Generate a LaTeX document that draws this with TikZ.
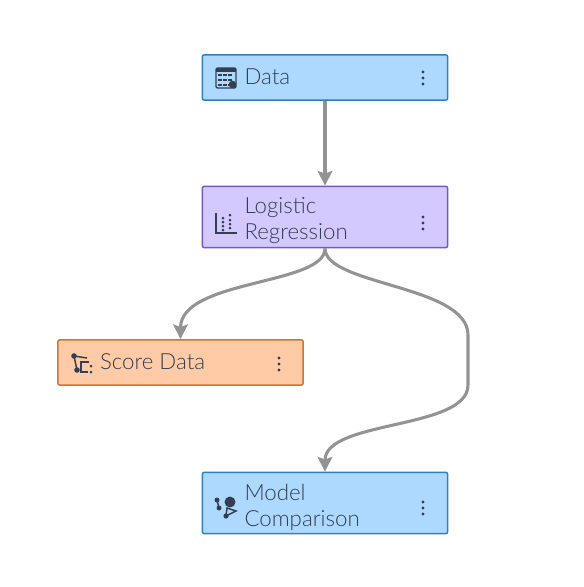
\documentclass[tikz,border=0pt]{standalone}
\usepackage{fontspec}
\setmainfont{Lato Light}
\usetikzlibrary{positioning, arrows.meta}
\definecolor{inkc}{HTML}{333F4F}
\definecolor{linkc}{HTML}{939393}
\definecolor{bluef}{HTML}{ADD9FF}
\definecolor{blued}{HTML}{2F7FC4}
\definecolor{purplef}{HTML}{D4C9FF}
\definecolor{purpled}{HTML}{7459C2}
\definecolor{orangef}{HTML}{FFCBA6}
\definecolor{oranged}{HTML}{D2752E}

\begin{document}
\begin{tikzpicture}[
    x=0.75pt, y=-0.75pt,
    task/.style = {rectangle, rounded corners=1.5pt, line width=1.1pt,
      minimum width=184pt, inner sep=0pt},
    taskone/.style = {task, minimum height=34pt},
    tasktwo/.style = {task, minimum height=46pt},
    bluetask/.style = {draw=blued, fill=bluef},
    purpletask/.style = {draw=purpled, fill=purplef},
    orangetask/.style = {draw=oranged, fill=orangef},
    caption/.style = {font=\fontsize{16.7}{19.5}\selectfont, text=inkc,
      align=left, inner sep=0pt},
    link/.style = {draw=linkc, line width=2.3pt,
      -{Stealth[length=11pt, width=11pt, inset=2pt]}},
    glyph/.style = {draw=inkc, line width=1.1pt},
    menu/.pic = {
      \foreach \dy in {-6,0,6}
        \fill[inkc] (0,\dy) circle (1.7);
    },
    tableicon/.pic = {
      \draw[glyph, rounded corners=1pt] (-10,-10) rectangle (10,10);
      \fill[inkc] (-10,-10) rectangle (10,-6);
      \foreach \ry in {-3,2,7}
        \foreach \rx in {-8,-3,2}
          \draw[glyph, line width=0.9pt] (\rx,\ry) -- +(3.5,0);
      \fill[inkc] (6.5,6.5) circle (3.8);
    },
    scatteicon/.pic = {
      \draw[glyph] (-10,-10) -- (-10,10) -- (11,10);
      \foreach \ry in {-1,3,7,11}
        \fill[inkc] (-3,\ry-4) circle (1.5);
      \foreach \ry in {-4,1,5,9}
        \fill[inkc] (4,\ry-4) circle (1.5);
    },
    scoreicon/.pic = {
      \draw[glyph] (-8,-7) -- (-5,7);
      \draw[glyph] (-8,-7) -- (5,-5);
      \fill[inkc] (-8,-7) circle (2.8);
      \fill[inkc] (-5,7) circle (2.8);
      \draw[glyph] (7,-1) -- (-1,-1) -- (-1,9) -- (6,9);
      \fill[inkc] (9,3) circle (1.5);
      \fill[inkc] (9,9) circle (1.5);
    },
    compareicon/.pic = {
      \draw[glyph] (-9,-5) -- (-7,3);
      \fill[inkc] (-9,-5) circle (2.5);
      \fill[inkc] (-7,3) circle (2.5);
      \fill[inkc] (4,-3) circle (5.5);
      \draw[glyph] (1,3) -- (0,11) -- (10,6) -- cycle;
      \fill[inkc] (0,11) circle (2.6);
    },
  ]
\useasboundingbox (0,0) rectangle (584,587);

\node[taskone, bluetask] (data) at (325,77.5) {};
\node[tasktwo, purpletask] (logit) at (325,217) {};
\node[taskone, orangetask] (score) at (180.5,362.5) {};
\node[tasktwo, bluetask] (compare) at (325,503) {};

\node[caption, right=32pt of data.west, yshift=0.5pt] (dataL) {Data};
\node[caption, right=32pt of logit.west, yshift=-3pt] (logitL) {Logistic\\Regression};
\node[caption, right=32pt of score.west, yshift=0.5pt] (scoreL) {Score Data};
\node[caption, right=32pt of compare.west, yshift=-3pt] (compareL) {Model\\Comparison};

\pic at (226,78) {tableicon};
\pic at (226,223) {scatteicon};
\pic at (82,363) {scoreicon};
\pic at (226,505) {compareicon};

\pic at (423,78) {menu};
\pic at (423,223) {menu};
\pic at (279,364) {menu};
\pic at (423,508) {menu};

\draw[link] (data) -- (logit);
\draw[link] (logit.south) .. controls +(0,37) and +(0,-60) .. (score.north);
\draw[link] (logit.south) .. controls +(0,37) and (468,285) .. (468,335)
    -- (468,385) .. controls (468,430) and +(0,-52) .. (compare.north);
\end{tikzpicture}
\end{document}
